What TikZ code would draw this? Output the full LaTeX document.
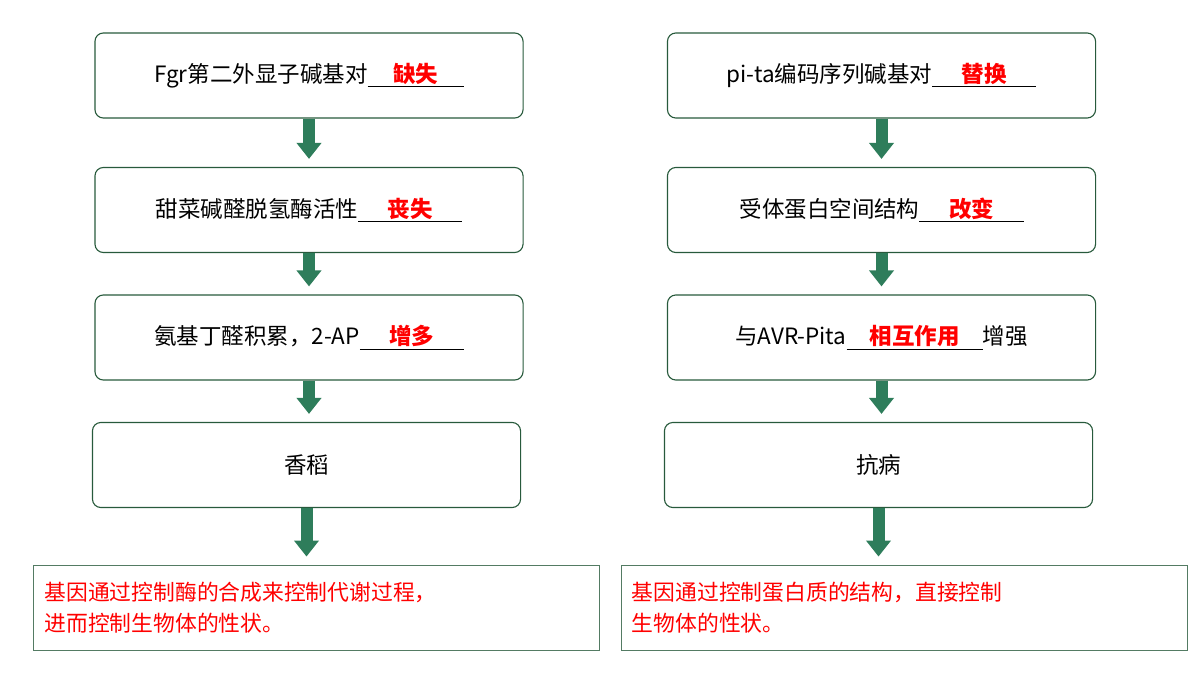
\documentclass[tikz,border=0pt]{standalone}
\usepackage{fontspec}
\setmainfont{Noto Sans CJK SC}
\usetikzlibrary{arrows.meta}
\definecolor{flowgreen}{RGB}{46,125,91}
\definecolor{boxgreen}{RGB}{40,90,60}
\tikzset{
  stage/.style={draw=boxgreen, line width=0.8pt, rounded corners=6pt,
    minimum width=10.7cm, minimum height=2.125cm, font=\fontsize{16pt}{19pt}\selectfont},
  result/.style={draw=boxgreen!80, line width=0.6pt,
    minimum width=14.15cm, minimum height=2.125cm, text width=13.6cm, align=left,
    text=red, font=\fontsize{15.5pt}{22pt}\selectfont},
  flow/.style={draw=flowgreen, fill=flowgreen, line width=0.3cm, shorten >=8*0.025cm,
    -{Triangle[width=0.6cm,length=0.4cm]}}
}
\newcommand{\blank}[2]{\underline{\makebox[#1][c]{\color{red}\bfseries #2}}}
\begin{document}
\begin{tikzpicture}[x=0.025cm,y=-0.025cm]
  \useasboundingbox (0,0) rectangle (1200,675);
  % left column
  \node[stage] (l1) at (309,75.5) {Fgr第二外显子碱基对\blank{2.4cm}{缺失}};
  \node[stage] (l2) at (309,210) {甜菜碱醛脱氢酶活性\blank{2.6cm}{丧失}};
  \node[stage] (l3) at (309,337.5) {氨基丁醛积累，2-AP\blank{2.6cm}{增多}};
  \node[stage] (l4) at (306.5,465) {香稻};
  \node[result] (lr) at (316.5,607.5) {基因通过控制酶的合成来控制代谢过程，\\进而控制生物体的性状。};
  % right column
  \node[stage] (r1) at (881.5,75.5) {pi-ta编码序列碱基对\blank{2.6cm}{替换}};
  \node[stage] (r2) at (881.5,210) {受体蛋白空间结构\blank{2.6cm}{改变}};
  \node[stage] (r3) at (881.5,337.5) {与AVR-Pita\blank{3.4cm}{相互作用}增强};
  \node[stage] (r4) at (878.5,465) {抗病};
  \node[result] (rr) at (904,607.5) {基因通过控制蛋白质的结构，直接控制\\生物体的性状。};
  % arrows
  \foreach \a/\b in {l1/l2,l2/l3,l3/l4,l4/lr,r1/r2,r2/r3,r3/r4,r4/rr}
    \draw[flow] (\a.south) -- (\a.south |- \b.north);
\end{tikzpicture}
\end{document}
